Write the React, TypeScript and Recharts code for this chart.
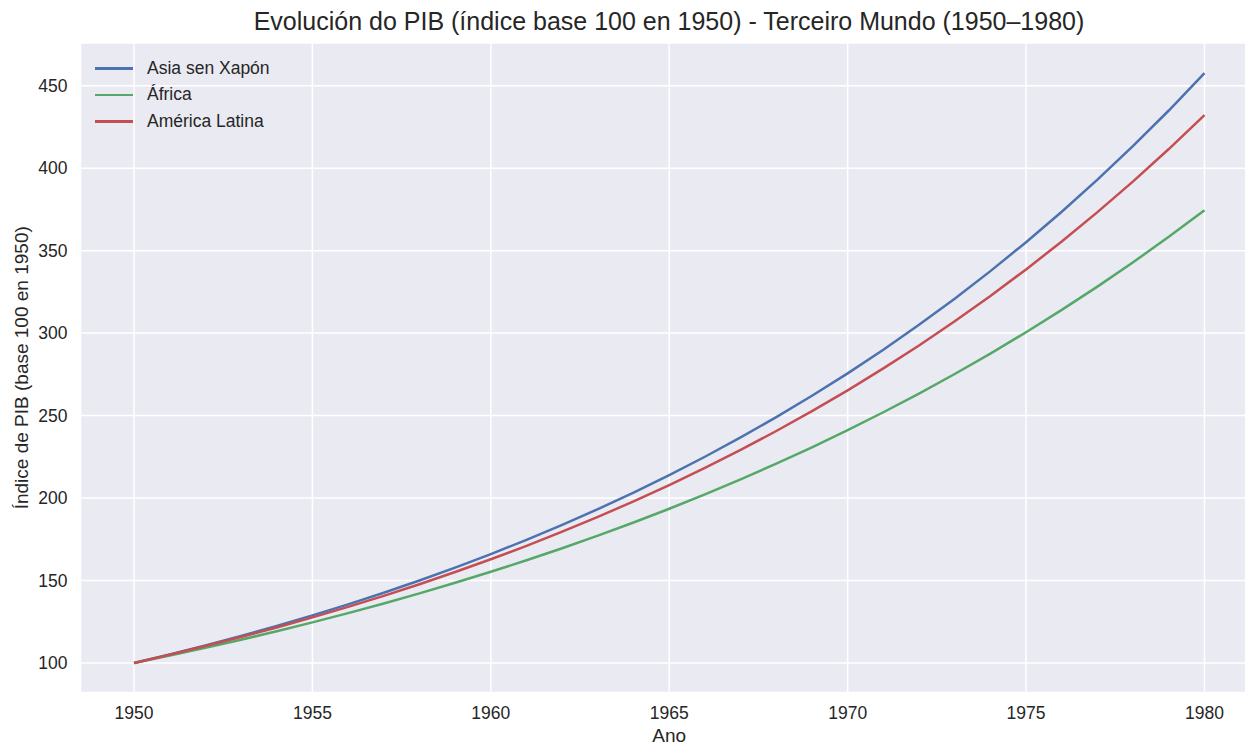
import React from 'react';
import { LineChart, Line, XAxis, YAxis, CartesianGrid, Legend } from 'recharts';

const years = [1950,1951,1952,1953,1954,1955,1956,1957,1958,1959,1960,1961,1962,1963,1964,1965,1966,1967,1968,1969,1970,1971,1972,1973,1974,1975,1976,1977,1978,1979,1980];
const asia = [100,105.2,110.67,116.43,122.48,128.85,135.55,142.6,150.01,157.81,166.02,174.65,183.73,193.29,203.34,213.91,225.04,236.74,249.05,262.0,275.62,289.96,305.03,320.89,337.58,355.14,373.6,393.03,413.47,434.97,457.59];
const africa = [100,104.5,109.2,114.12,119.25,124.62,130.23,136.09,142.21,148.61,155.3,162.29,169.59,177.22,185.2,193.53,202.24,211.34,220.85,230.79,241.17,252.02,263.36,275.22,287.6,300.54,314.07,328.2,342.97,358.41,374.54];
const latam = [100,105,110.25,115.76,121.55,127.63,134.01,140.71,147.75,155.13,162.89,171.03,179.59,188.56,197.99,207.89,218.29,229.2,240.66,252.7,265.33,278.6,292.53,307.15,322.51,338.64,355.57,373.35,392.01,411.61,432.19];
const seriesNames = ['Asia sen Xapón', 'África', 'América Latina'];
const seriesColors = ['#4C72B0', '#55A868', '#C44E52'];
const xTicks = [1950, 1955, 1960, 1965, 1970, 1975, 1980];
const yTicks = [100, 150, 200, 250, 300, 350, 400, 450];
const title = 'Evolución do PIB (índice base 100 en 1950) - Terceiro Mundo (1950–1980)';
const xLabel = 'Ano';
const yLabel = 'Índice de PIB (base 100 en 1950)';

const data = years.map((y, i) => ({ year: y, asia: asia[i], africa: africa[i], latam: latam[i] }));
const keys = ['asia', 'africa', 'latam'];

const FONT = '"Liberation Sans", Arial, sans-serif';
const TXT = '#262626';

const LegendContent = () => (
  <div style={{ fontFamily: FONT, fontSize: 17.5, color: TXT }}>
    {seriesNames.map((n, i) => (
      <div key={n} style={{ display: 'flex', alignItems: 'center', height: 26.5 }}>
        <div style={{ width: 38, height: 2.5, background: seriesColors[i], marginRight: 14 }} />
        <span>{n}</span>
      </div>
    ))}
  </div>
);

export default function App() {
  return (
    <div style={{ position: 'absolute', left: 0, top: 0, width: 1245, height: 745, overflow: 'hidden', background: '#fff', fontFamily: FONT }}>
      <div style={{ position: 'absolute', left: 0, width: 1338, top: 7, textAlign: 'center', fontSize: 25, color: TXT, whiteSpace: 'nowrap' }}>{title}</div>
      <LineChart width={1262} height={745} data={data} margin={{ top: 43, right: 4, bottom: 0, left: 0 }}>
        <CartesianGrid stroke="#ffffff" strokeWidth={1.5} fill="#EAEAF2" horizontal vertical />
        <XAxis
          dataKey="year"
          type="number"
          domain={[1948.5, 1981.5]}
          ticks={xTicks}
          tickSize={0}
          tickMargin={14}
          axisLine={false}
          tickLine={false}
          height={52.5}
          tick={{ fill: TXT, fontSize: 17.5, fontFamily: FONT }}
          label={{
            content: (p: any) => {
              const vb = p.viewBox;
              return (
                <text x={vb.x + vb.width / 2} y={735} textAnchor="middle" dominantBaseline="central" fill={TXT} fontSize={19} fontFamily={FONT}>{xLabel}</text>
              );
            },
          }}
        />
        <YAxis
          type="number"
          domain={[82.1, 475.9]}
          ticks={yTicks}
          width={80.5}
          tickSize={0}
          tickMargin={13}
          axisLine={false}
          tickLine={false}
          allowDataOverflow
          tick={{ fill: TXT, fontSize: 17.5, fontFamily: FONT }}
          label={{
            content: (p: any) => {
              const vb = p.viewBox;
              const cy = vb.y + vb.height / 2;
              return (
                <text x={21} y={cy} transform={`rotate(-90 21 ${cy})`} textAnchor="middle" dominantBaseline="central" fill={TXT} fontSize={19} fontFamily={FONT}>{yLabel}</text>
              );
            },
          }}
        />
        <Legend
          layout="vertical"
          verticalAlign="middle"
          align="center"
          wrapperStyle={{ position: 'absolute', left: 95, top: 55, width: 'auto', height: 'auto' }}
          content={<LegendContent />}
        />
        {keys.map((k, i) => (
          <Line key={k} dataKey={k} name={seriesNames[i]} stroke={seriesColors[i]} strokeWidth={2.5} dot={false} type="linear" isAnimationActive={false} />
        ))}
      </LineChart>
    </div>
  );
}
